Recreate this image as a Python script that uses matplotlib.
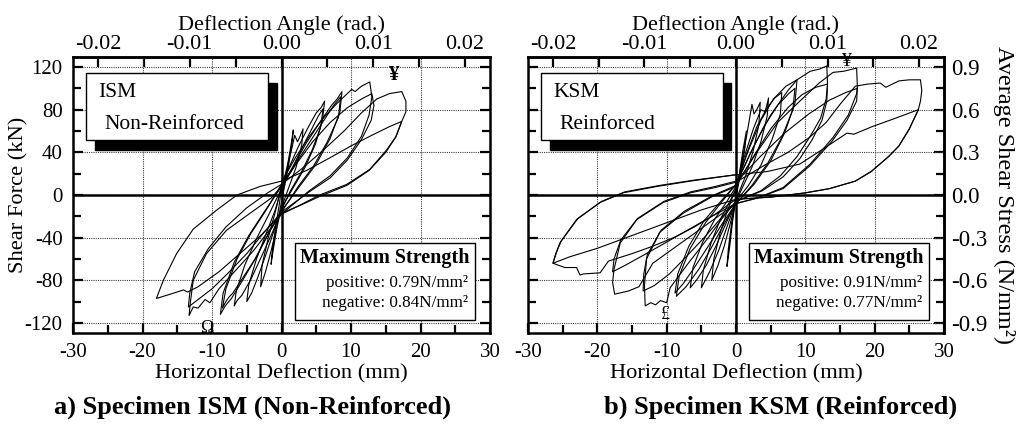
import matplotlib

matplotlib.use("Agg")
import matplotlib.pyplot as plt
from matplotlib.patches import Rectangle
from matplotlib.ticker import MultipleLocator, FixedLocator, FormatStrFormatter

plt.rcParams["font.family"] = "serif"
plt.rcParams["font.serif"] = ["Liberation Serif", "DejaVu Serif"]
plt.rcParams["mathtext.fontset"] = "custom"
plt.rcParams["mathtext.rm"] = "Liberation Serif"
plt.rcParams["axes.unicode_minus"] = False

# ---- hysteresis records, one list per cycle (mm, kN) ----
ism_disp = [
    [0.0, 0.5, 1.0, 1.4, 1.7, 1.5, 1.0, 0.5, 0.0, -0.5, -1.0, -1.3, -1.5, -1.3, -0.8, -0.3, 0.0],
    [0.0, 0.8, 1.5, 1.9, 2.3, 2.6, 3.1, 2.9, 2.1, 1.1, 0.0, -0.8, -1.6, -2.3, -3.0, -2.8, -1.9, -0.9, 0.0],
    [0.0, 1.1, 2.4, 3.8, 5.0, 5.7, 6.2, 5.9, 4.9, 3.4, 1.7, 0.0, -1.0, -2.2, -3.4, -4.3, -5.0, -4.7, -3.6, -2.2, -0.9, 0.0],
    [0.0, 1.3, 2.8, 4.2, 5.3, 6.0, 5.6, 4.4, 2.9, 1.3, 0.0, -1.3, -2.9, -4.4, -5.7, -6.4, -6.8, -6.5, -5.3, -3.6, -1.8, 0.0],
    [0.0, 1.6, 3.5, 5.5, 7.2, 8.0, 8.7, 8.4, 7.0, 5.0, 2.7, 0.0, -1.6, -3.6, -5.6, -7.2, -8.1, -8.8, -8.4, -6.8, -4.7, -2.4, 0.0],
    [0.0, 1.8, 3.8, 5.8, 7.4, 8.5, 8.2, 6.6, 4.6, 2.4, 0.0, -1.8, -3.8, -5.8, -7.0, -7.6, -8.1, -8.5, -8.0, -6.4, -4.4, -2.2, 0.0],
    [0.0, 2.0, 4.0, 6.0, 8.0, 10.1, 10.6, 11.5, 12.7, 13.0, 12.6, 11.5, 9.5, 7.0, 4.0, 0.0, -2.0, -4.0, -6.5, -9.0,
     -10.3, -11.0, -12.0, -12.7, -13.3, -13.1, -12.7, -10.8, -7.9, -4.5, -1.5, 0.0],
    [0.0, 2.0, 4.5, 7.0, 9.5, 11.5, 13.0, 13.3, 12.9, 11.5, 9.5, 7.0, 4.0, 0.0, -2.5, -5.0, -7.5, -10.0, -12.0, -13.4,
     -13.2, -12.5, -10.5, -8.0, -5.0, -2.0, 0.0],
    [0.0, 3.0, 6.0, 9.0, 11.5, 13.7, 15.5, 17.3, 17.9, 17.9, 17.3, 16.5, 15.1, 12.7, 9.4, 5.5, 2.5, 0.0, -3.0, -6.0,
     -9.0, -12.0, -13.5, -14.1, -16.0, -18.0, -17.0, -15.1, -12.7, -9.3, -6.4, -3.1, 0.0],
    [0.0, 3.6, 7.0, 10.0, 13.0, 15.5, 17.3, 16.4, 15.0, 12.6, 9.4, 5.6, 2.6, 0.0],
]
ism_force = [
    [0, 14, 33, 48, 61, 48, 27, 10, -6, -24, -44, -56, -65, -50, -28, -8, 6],
    [6, 26, 44, 56, 50, 54, 62, 46, 26, 8, -12, -34, -55, -72, -86, -66, -40, -16, 8],
    [8, 26, 45, 63, 77, 82, 88, 70, 48, 26, 7, -12, -32, -55, -77, -92, -100, -84, -60, -36, -14, 6],
    [6, 22, 42, 60, 74, 81, 63, 42, 22, 4, -14, -35, -58, -79, -94, -99, -104, -90, -66, -41, -18, 6],
    [8, 26, 48, 68, 84, 90, 97, 78, 53, 29, 9, -15, -33, -58, -80, -97, -104, -112, -92, -63, -38, -15, 8],
    [10, 27, 47, 67, 83, 92, 73, 50, 27, 8, -16, -35, -60, -80, -92, -96, -101, -106, -88, -60, -36, -14, 10],
    [12, 35, 55, 72, 86, 99, 97, 102, 106, 92, 75, 55, 35, 18, 4, -18, -35, -52, -70, -88,
     -101, -98, -106, -105, -113, -100, -80, -55, -33, -17, -3, 8],
    [8, 28, 50, 68, 82, 90, 95, 84, 70, 52, 33, 16, 3, -16, -35, -55, -72, -88, -98, -105,
     -92, -72, -50, -30, -12, 2, 10],
    [10, 25, 42, 60, 77, 90, 95, 97, 88, 78, 69, 55, 42, 24, 10, 0, -10, -18, -38, -55,
     -72, -86, -91, -89, -93, -97, -80, -55, -32, -14, 0, 8, 13],
    [13, 23, 35, 46, 56, 64, 69, 54, 40, 23, 9, -1, -10, -17],
]

ksm_disp = [
    [0.0, 0.5, 1.0, 1.5, 1.3, 0.8, 0.3, 0.0, -0.5, -0.9, -1.3, -1.1, -0.6, -0.2, 0.0],
    [0.0, 0.8, 1.6, 2.3, 2.6, 3.0, 3.5, 3.3, 2.5, 1.4, 0.4, 0.0, -0.8, -1.7, -2.6, -3.5, -3.2, -2.3, -1.2, 0.0],
    [0.0, 1.2, 2.5, 3.6, 4.2, 4.7, 4.5, 3.6, 2.3, 1.0, 0.0, -1.2, -2.5, -3.8, -5.0, -4.7, -3.6, -2.2, -0.9, 0.0],
    [0.0, 1.5, 3.0, 4.5, 5.6, 6.6, 6.4, 5.2, 3.6, 1.8, 0.0, -1.4, -2.9, -4.3, -5.6, -6.6, -6.2, -4.8, -3.0, -1.3, 0.0],
    [0.0, 1.8, 3.6, 5.4, 7.2, 8.8, 8.5, 7.0, 5.0, 2.6, 0.0, -1.8, -3.6, -5.4, -7.2, -8.6, -8.2, -6.6, -4.4, -2.0, 0.0],
    [0.0, 2.0, 4.0, 6.0, 7.6, 8.5, 8.2, 6.6, 4.6, 2.3, 0.0, -2.0, -4.0, -6.0, -7.6, -8.8, -8.4, -6.8, -4.6, -2.2, 0.0],
    [0.0, 2.5, 5.0, 7.5, 8.8, 10.7, 12.0, 13.1, 13.2, 13.0, 12.2, 10.7, 8.8, 6.4, 3.6, 0.0, -2.0, -4.0, -7.0, -9.5,
     -10.0, -10.9, -11.6, -12.3, -13.1, -13.2, -12.9, -11.0, -7.6, -3.3, 0.0],
    [0.0, 2.5, 5.0, 7.5, 9.5, 11.5, 13.2, 13.1, 12.4, 11.0, 9.2, 6.8, 3.8, 0.0, -2.2, -4.6, -7.2, -9.6, -11.8, -13.4,
     -13.3, -12.8, -10.8, -7.4, -3.2, 0.0],
    [0.0, 3.0, 6.0, 9.2, 12.0, 14.0, 15.5, 17.4, 17.5, 17.4, 16.2, 14.0, 10.7, 6.8, 3.0, 0.0, -3.0, -6.0, -9.0, -12.0,
     -14.0, -15.5, -17.5, -17.8, -17.6, -16.7, -14.3, -10.5, -6.6, -3.0, 0.0],
    [0.0, 3.5, 7.0, 10.5, 13.5, 15.8, 17.5, 17.4, 16.0, 13.8, 10.6, 6.8, 3.0, 0.0, -3.5, -7.0, -10.5, -13.5, -16.0,
     -17.8, -17.6, -16.6, -14.2, -10.4, -6.5, -3.0, 0.0],
    [0.0, 4.4, 7.5, 10.6, 13.0, 15.0, 17.2, 19.0, 20.8, 21.6, 23.5, 25.0, 26.6, 26.8, 26.6, 26.3, 25.0, 23.5, 22.0,
     19.5, 17.2, 13.5, 10.0, 5.0, 0.0, -3.0, -6.0, -9.0, -12.0, -15.0, -18.4, -19.6, -22.0, -22.5, -23.0, -24.7,
     -26.4, -25.8, -25.4, -23.0, -19.6, -16.3, -11.4, -6.6, 0.0],
    [0.0, 4.5, 9.2, 13.0, 16.0, 17.0, 19.6, 23.0, 26.3, 25.0, 23.5, 22.0, 19.5, 17.2, 13.5, 10.0, 5.0, 0.0, -5.0,
     -10.0, -15.0, -20.0, -24.0, -26.4, -26.0, -25.2, -22.8, -19.4, -16.0, -11.0, -6.0, 0.0],
]
ksm_force = [
    [0, 20, 42, 60, 45, 25, 8, -3, -25, -48, -67, -50, -25, -8, 4],
    [4, 30, 58, 85, 76, 80, 87, 66, 42, 18, 2, -6, -26, -48, -66, -80, -60, -36, -14, 6],
    [6, 36, 62, 80, 78, 91, 74, 50, 26, 8, -6, -28, -52, -72, -87, -70, -45, -22, -6, 6],
    [8, 38, 64, 82, 91, 96, 76, 52, 28, 9, -6, -26, -48, -66, -79, -87, -68, -44, -22, -6, 8],
    [10, 42, 70, 90, 102, 108, 86, 58, 32, 10, -8, -28, -50, -70, -86, -95, -76, -50, -26, -6, 10],
    [10, 38, 64, 84, 95, 100, 80, 54, 30, 9, -8, -27, -48, -68, -83, -92, -74, -48, -24, -6, 10],
    [10, 45, 75, 98, 108, 116, 118, 121, 104, 90, 72, 55, 36, 18, 4, -6, -22, -40, -65, -87,
     -101, -99, -103, -101, -104, -85, -60, -35, -17, -1, 8],
    [8, 36, 62, 82, 94, 101, 104, 88, 70, 52, 34, 17, 4, -6, -22, -40, -58, -74, -85, -90,
     -74, -56, -33, -15, 0, 9],
    [10, 40, 68, 88, 105, 115, 116, 119, 102, 95, 75, 54, 29, 7, -3, -8, -22, -36, -50, -64,
     -86, -90, -93, -82, -70, -45, -23, -7, 2, 7, 12],
    [12, 36, 58, 76, 89, 96, 100, 88, 70, 50, 27, 6, -3, -8, -20, -33, -46, -57, -66,
     -72, -60, -42, -22, -6, 3, 8, 13],
    [12, 29, 40, 54, 68, 85, 102, 104, 105, 101, 107, 108, 108, 98, 88, 80, 62, 46, 36,
     22, 13, 6, 2, -2, -4, -18, -30, -40, -48, -55, -62, -73, -74, -75, -68, -68,
     -64, -52, -45, -23, -7, 2, 8, 13, 19],
    [19, 22, 29, 45, 58, 57, 64, 72, 80, 62, 46, 36, 22, 13, 6, 2, -2, -4, -14,
     -26, -38, -50, -58, -64, -55, -43, -22, -6, 3, 9, 14, 19],
]

angle_ticks = [-0.02, -0.01, 0.0, 0.01, 0.02]
angle_minor = [-0.015, -0.005, 0.005, 0.015]
stress_ticks = [-0.9, -0.6, -0.3, 0.0, 0.3, 0.6, 0.9]
stress_minor = [-0.75, -0.45, -0.15, 0.15, 0.45, 0.75]

MM_PER_RAD = 1320.0
KN_TO_MPA = 0.9 / 120.0

fig = plt.figure(figsize=(10.18, 4.26), dpi=100)
axL = fig.add_axes([73 / 1018, 93 / 426, 417 / 1018, 276 / 426])
axR = fig.add_axes([528 / 1018, 93 / 426, 416 / 1018, 276 / 426])


def base_axes(ax, left_labels):
    ax.set_xlim(-30, 30)
    ax.set_ylim(-129.4, 129.4)
    ax.xaxis.set_major_locator(MultipleLocator(10))
    ax.xaxis.set_minor_locator(MultipleLocator(5))
    ax.yaxis.set_major_locator(MultipleLocator(40))
    ax.yaxis.set_minor_locator(MultipleLocator(20))
    ax.tick_params(which="both", direction="in", width=1.6, labelsize=15,
                   top=False, right=left_labels, labelleft=left_labels)
    ax.tick_params(which="major", length=7)
    ax.tick_params(which="minor", length=6)
    ax.tick_params(axis="x", pad=7)
    ax.tick_params(axis="y", pad=7.5)
    for s in ax.spines.values():
        s.set_linewidth(1.8)
    ax.grid(True, which="major", ls=(0, (1, 1)), color="0.25", lw=0.8)
    ax.axhline(0, color="k", lw=1.8, zorder=2)
    ax.axvline(0, color="k", lw=1.8, zorder=2)
    ax.set_xlabel("Horizontal Deflection (mm)", fontsize=16.2, labelpad=2)

    top = ax.secondary_xaxis("top", functions=(lambda d: d / MM_PER_RAD,
                                               lambda a: a * MM_PER_RAD))
    top.xaxis.set_major_locator(FixedLocator(angle_ticks))
    top.xaxis.set_minor_locator(FixedLocator(angle_minor))
    top.xaxis.set_major_formatter(FormatStrFormatter("%.2f"))
    top.tick_params(which="both", direction="in", width=1.6, labelsize=16, pad=2)
    top.tick_params(which="major", length=7)
    top.tick_params(which="minor", length=7)
    top.set_xlabel("Deflection Angle (rad.)", fontsize=16, labelpad=4)
    top.spines["top"].set_linewidth(1.8)


def label_box(ax, line1, line2):
    ax.add_patch(Rectangle((0.052, 0.663), 0.437, 0.243, transform=ax.transAxes,
                           facecolor="k", edgecolor="k", zorder=5))
    ax.add_patch(Rectangle((0.031, 0.699), 0.437, 0.243, transform=ax.transAxes,
                           facecolor="white", edgecolor="k", lw=1.0, zorder=6))
    ax.text(0.06, 0.871, line1, transform=ax.transAxes, fontsize=15.5,
            va="center", ha="left", zorder=7)
    ax.text(0.076, 0.757, line2, transform=ax.transAxes, fontsize=15.5,
            va="center", ha="left", zorder=7)


def strength_box(ax, pos, neg):
    ax.add_patch(Rectangle((0.532, 0.047), 0.432, 0.279, transform=ax.transAxes,
                           facecolor="white", edgecolor="k", lw=1.0, zorder=6))
    ax.text(0.748, 0.272, "Maximum Strength", transform=ax.transAxes,
            fontsize=14.5, fontweight="bold", ha="center", va="center", zorder=7)
    ax.text(0.948, 0.181, f"positive: {pos}N/mm²", transform=ax.transAxes,
            fontsize=12.3, ha="right", va="center", zorder=7)
    ax.text(0.948, 0.108, f"negative: {neg}N/mm²", transform=ax.transAxes,
            fontsize=12.3, ha="right", va="center", zorder=7)


# ---- a) ISM ----
base_axes(axL, True)
axL.set_ylabel("Shear Force (kN)", fontsize=16.2, labelpad=-3)
for xs, ys in zip(ism_disp, ism_force):
    axL.plot(xs, ys, color="k", lw=0.8, zorder=3)
label_box(axL, "ISM", "Non-Reinforced")
strength_box(axL, "0.79", "0.84")
axL.text(16.1, 112.7, "¥", fontsize=15, fontweight="bold", ha="center", va="center", zorder=4)
axL.text(-10.7, -124.8, "Ω", fontsize=13, ha="center", va="center", zorder=4)

# ---- b) KSM ----
base_axes(axR, False)
axR.tick_params(which="both", left=True, right=False, labelleft=False)
for xs, ys in zip(ksm_disp, ksm_force):
    axR.plot(xs, ys, color="k", lw=0.8, zorder=3)
label_box(axR, "KSM", "Reinforced")
strength_box(axR, "0.91", "0.77")
axR.text(16.0, 125, "¥", fontsize=14, ha="center", va="center", zorder=4, clip_on=False)
axR.text(-10.2, -112.3, "£", fontsize=13, ha="center", va="center", zorder=4)

rsec = axR.secondary_yaxis("right", functions=(lambda f: f * KN_TO_MPA,
                                               lambda s: s / KN_TO_MPA))
rsec.yaxis.set_major_locator(FixedLocator(stress_ticks))
rsec.yaxis.set_minor_locator(FixedLocator(stress_minor))
rsec.yaxis.set_major_formatter(FormatStrFormatter("%.1f"))
rsec.tick_params(which="both", direction="in", width=1.6, labelsize=16.5, pad=5)
rsec.tick_params(which="major", length=7)
rsec.tick_params(which="minor", length=6)
rsec.spines["right"].set_linewidth(1.8)
rsec.set_ylabel("Average Shear Stress (N/mm²)", fontsize=17.5, rotation=270,
                labelpad=20)

fig.text(252 / 1018, 1 - 407 / 426, "a) Specimen ISM (Non-Reinforced)",
         fontsize=19, fontweight="bold", ha="center", va="center")
fig.text(781 / 1018, 1 - 407 / 426, "b) Specimen KSM (Reinforced)",
         fontsize=19, fontweight="bold", ha="center", va="center")

fig.savefig("out.png", dpi=100)
